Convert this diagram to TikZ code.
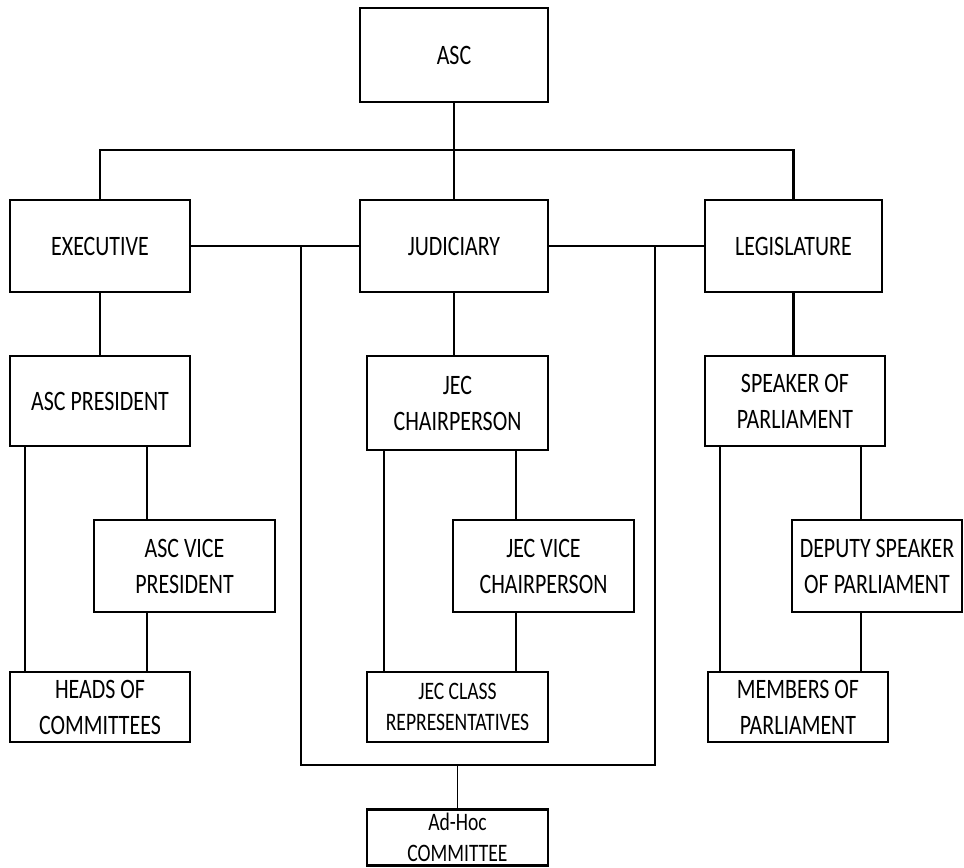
\documentclass[tikz,border=0pt]{standalone}
\usepackage{fontspec}
\setmainfont{Carlito}[FakeStretch=0.78]
\tikzset{
	orgbox/.style={draw, line width=1.6pt, align=center, inner sep=2pt,
		font=\fontsize{16}{20.5}\selectfont},
	smallbox/.style={orgbox, font=\fontsize{14.3}{17.5}\selectfont},
	bus/.style={line width=1.6pt},
	link/.style={line width=1.3pt},
	thinlink/.style={line width=0.6pt}
}
\begin{document}
\begin{tikzpicture}[x=0.02cm,y=-0.02cm]
			\useasboundingbox (0,0) rectangle (964,867);
			% top and the three branches
			\node[orgbox, minimum width=3.76cm, minimum height=1.88cm] (asc) at (454,55) {ASC};
			\node[orgbox, minimum width=3.6cm, minimum height=1.84cm] (exec) at (100,246) {EXECUTIVE};
			\node[orgbox, minimum width=3.76cm, minimum height=1.84cm] (jud) at (454,246) {JUDICIARY};
			\node[orgbox, minimum width=3.54cm, minimum height=1.84cm] (leg) at (793.5,246) {LEGISLATURE};
			\coordinate (top) at (454,150);
			\draw[bus] (asc) -- (jud);
			\draw[bus] (exec.north) |- (top) -| (leg.north);
			% executive
			\node[orgbox, minimum width=3.6cm, minimum height=1.8cm] (pres) at (100,401) {ASC PRESIDENT};
			\node[orgbox, minimum width=3.62cm, minimum height=1.84cm] (vpres) at (184.5,566) {ASC VICE\\PRESIDENT};
			\node[orgbox, minimum width=3.6cm, minimum height=1.4cm] (heads) at (100,707) {HEADS OF\\COMMITTEES};
			\draw[bus] (exec) -- (pres);
			\draw[link] (pres.south -| 25,0) -- (heads.north -| 25,0);
			\draw[link] (pres.south -| 147,0) -- (vpres.north -| 147,0);
			\draw[link] (vpres.south -| 147,0) -- (heads.north -| 147,0);
			% judiciary
			\node[orgbox, minimum width=3.62cm, minimum height=1.88cm] (chair) at (457.5,403) {JEC\\CHAIRPERSON};
			\node[orgbox, minimum width=3.62cm, minimum height=1.84cm] (vchair) at (543.5,566) {JEC VICE\\CHAIRPERSON};
			\node[smallbox, minimum width=3.62cm, minimum height=1.4cm] (reps) at (457.5,707) {JEC CLASS\\REPRESENTATIVES};
			\draw[bus] (jud) -- (jud |- chair.north);
			\draw[link] (chair.south -| 384,0) -- (reps.north -| 384,0);
			\draw[link] (chair.south -| 516,0) -- (vchair.north -| 516,0);
			\draw[link] (vchair.south -| 516,0) -- (reps.north -| 516,0);
			% legislature
			\node[orgbox, minimum width=3.6cm, minimum height=1.8cm] (speaker) at (795,401) {SPEAKER OF\\PARLIAMENT};
			\node[orgbox, minimum width=3.4cm, minimum height=1.84cm] (deputy) at (877,566) {DEPUTY SPEAKER\\OF PARLIAMENT};
			\node[orgbox, minimum width=3.6cm, minimum height=1.4cm] (members) at (798,707) {MEMBERS OF\\PARLIAMENT};
			\draw[bus] (leg) -- (leg |- speaker.north);
			\draw[link] (speaker.south -| 720,0) -- (members.north -| 720,0);
			\draw[link] (speaker.south -| 861,0) -- (deputy.north -| 861,0);
			\draw[link] (deputy.south -| 861,0) -- (members.north -| 861,0);
			% ad-hoc committee
			\node[smallbox, minimum width=3.62cm, minimum height=1.12cm] (adhoc) at (457.5,837.5) {Ad-Hoc\\COMMITTEE};
			\coordinate (jl) at (301,246);
			\coordinate (jr) at (655,246);
			\coordinate (bl) at (301,765);
			\coordinate (br) at (655,765);
			\draw[thinlink] (exec) -- (jud);
			\draw[thinlink] (jud) -- (leg);
			\draw[thinlink] (jl) -- (bl) -- (br) -- (jr);
			\draw[thinlink] (adhoc) -- (adhoc |- bl);
		\end{tikzpicture}
\end{document}
